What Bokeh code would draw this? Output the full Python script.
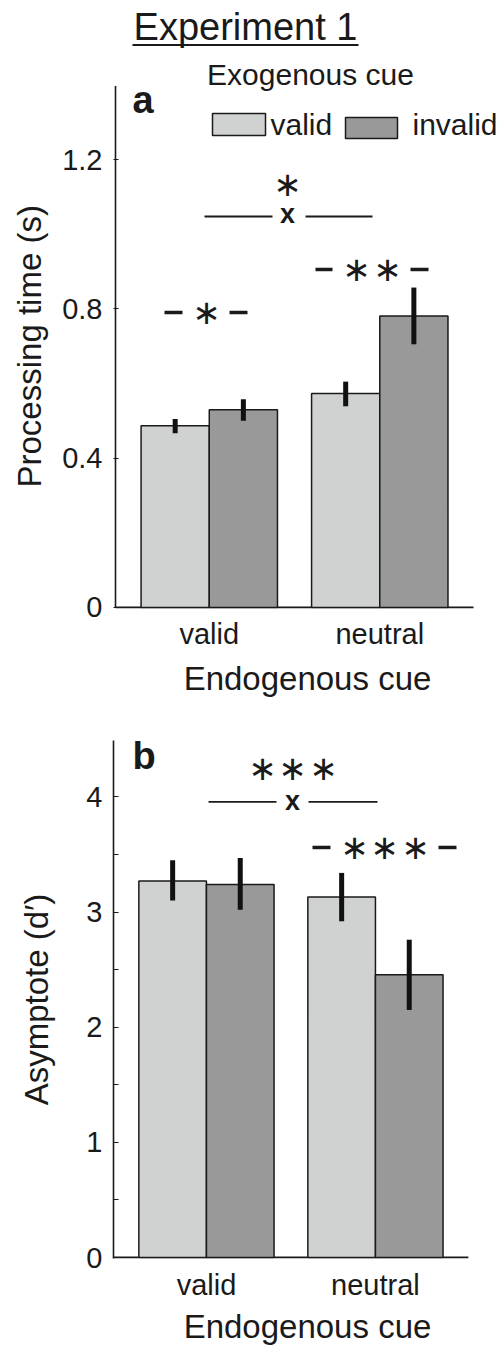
from bokeh.plotting import figure
from bokeh.models import FixedTicker, Label, Range1d, Title
from bokeh.layouts import column
from bokeh.embed import file_html
from bokeh.resources import INLINE

# ---------------- data ----------------
endo_cues = ["valid", "neutral"]          # x categories (Endogenous cue)
exo_cues = ["valid", "invalid"]           # series (Exogenous cue)
group_x = [1, 2]

# Panel a: processing time (s)
pt_valid = [0.487, 0.573]
pt_valid_lo = [0.467, 0.539]
pt_valid_hi = [0.505, 0.605]
pt_invalid = [0.530, 0.781]
pt_invalid_lo = [0.500, 0.705]
pt_invalid_hi = [0.558, 0.857]
pt_ticks = [0, 0.4, 0.8, 1.2]

# Panel b: asymptote (d')
asy_valid = [3.27, 3.13]
asy_valid_lo = [3.10, 2.92]
asy_valid_hi = [3.45, 3.34]
asy_invalid = [3.24, 2.455]
asy_invalid_lo = [3.02, 2.15]
asy_invalid_hi = [3.47, 2.76]
asy_ticks = [0, 1, 2, 3, 4]
asy_minor = [0.5, 1.5, 2.5, 3.5]

# ---------------- style ----------------
LIGHT = "#D0D2D1"
DARK = "#999999"
INK = "#1a1a1a"
FONT = "Liberation Sans"
STARFONT = "DejaVu Sans"
BW = 0.4
XLIM = (0.45, 2.55)


def base_fig(height, xr, yr, left, right, top, bottom):
    p = figure(width=501, height=height, x_range=Range1d(*xr),
               y_range=Range1d(*yr), output_backend="svg",
               toolbar_location=None, min_border_left=left,
               min_border_right=right, min_border_top=top,
               min_border_bottom=bottom)
    p.xgrid.visible = False
    p.ygrid.visible = False
    p.outline_line_color = None
    p.background_fill_color = "white"
    p.border_fill_color = "white"
    p.axis.axis_line_color = INK
    p.axis.axis_line_width = 1.6
    p.axis.major_label_text_font = FONT
    p.axis.major_label_text_font_size = "29px"
    p.axis.major_label_text_color = INK
    p.axis.axis_label_text_font = FONT
    p.axis.axis_label_text_font_size = "33px"
    p.axis.axis_label_text_font_style = "normal"
    p.axis.axis_label_text_color = INK
    p.yaxis.major_tick_in = 5
    p.yaxis.major_tick_out = 0
    p.yaxis.major_tick_line_color = INK
    p.yaxis.major_tick_line_width = 1.2
    p.xaxis.major_tick_in = 0
    p.xaxis.major_tick_out = 0
    p.xaxis.minor_tick_line_color = None
    p.xaxis.axis_line_color = None          # drawn to the data limits below
    p.xaxis.ticker = FixedTicker(ticks=group_x)
    p.xaxis.major_label_overrides = {1: endo_cues[0], 2: endo_cues[1]}
    p.xaxis.axis_label = "Endogenous cue"
    p.segment(x0=[XLIM[0]], y0=[0], x1=[XLIM[1]], y1=[0], line_color=INK,
              line_width=1.8)
    return p


def bars(p, v, inv, vlo, vhi, ilo, ihi):
    xv = [g - BW / 2 for g in group_x]
    xi = [g + BW / 2 for g in group_x]
    p.vbar(x=xv, top=v, width=BW, bottom=0, fill_color=LIGHT,
           line_color=INK, line_width=1.5)
    p.vbar(x=xi, top=inv, width=BW, bottom=0, fill_color=DARK,
           line_color=INK, line_width=1.5)
    p.segment(x0=xv, y0=vlo, x1=xv, y1=vhi, line_color="#111111", line_width=5)
    p.segment(x0=xi, y0=ilo, x1=xi, y1=ihi, line_color="#111111", line_width=5)


def label(p, text, x, y, size, scale, align="left", bold=False, font=FONT):
    # y is the text baseline (data units); anchor at the middle of the em box
    ymid = y + 0.3465 * size / scale
    p.add_layout(Label(x=x, y=ymid, text=text, text_font=font,
                       text_font_size=f"{size}px", text_align=align,
                       text_baseline="middle", text_color=INK,
                       text_font_style="bold" if bold else "normal"))


def stars(p, xs, y, size=34):
    for x in xs:
        p.add_layout(Label(x=x, y=y, text="\u2217", text_font=STARFONT,
                           text_font_size=f"{size}px", text_align="center",
                           text_baseline="middle", text_color=INK))


def hlines(p, spans, y, width):
    p.segment(x0=[s[0] for s in spans], y0=[y] * len(spans),
              x1=[s[1] for s in spans], y1=[y] * len(spans),
              line_color=INK, line_width=width)


# ---------------- panel a ----------------
SA = 373.33   # px per unit (y), panel a
A_YMAX = 1.3966
pa = base_fig(700, (0.43827, 2.71393), (-0.00268, 1.6259), 113, 0, 0, 92)
bars(pa, pt_valid, pt_invalid, pt_valid_lo, pt_valid_hi, pt_invalid_lo, pt_invalid_hi)
pa.yaxis.axis_line_color = None
pa.segment(x0=[XLIM[0]], y0=[0], x1=[XLIM[0]], y1=[A_YMAX], line_color=INK,
           line_width=1.6)
pa.yaxis.ticker = FixedTicker(ticks=pt_ticks)
pa.yaxis.major_label_overrides = {0: "0"}
pa.yaxis.minor_tick_line_color = None
pa.yaxis.major_label_standoff = 11
pa.xaxis.major_label_standoff = 9
pa.xaxis.axis_label_standoff = 7
pa.add_layout(Title(text="Processing time (s)", align="left", offset=121,
                    vertical_align="top", standoff=19, text_font=FONT,
                    text_font_size="33px", text_font_style="normal",
                    text_color=INK), "left")

# title with underline
label(pa, "Experiment 1", 1.2125, 1.5187, 38, SA, align="center")
hlines(pa, [(0.5497, 1.8752)], 1.5067, 2.2)
# panel letter and legend
label(pa, "a", 0.5497, 1.3232, 38, SA, bold=True)
label(pa, "Exogenous cue", 1.5937, 1.4009, 30, SA, align="center")
pa.quad(left=[1.0189, 1.7990], right=[1.3298, 2.1040],
        bottom=[1.2643, 1.2563], top=[1.3232, 1.3125],
        fill_color=[LIGHT, DARK], line_color=INK, line_width=1.5)
label(pa, exo_cues[0], 1.3591, 1.2670, 30, SA)
label(pa, exo_cues[1], 2.1919, 1.2670, 30, SA)
# significance annotations
stars(pa, [1.4588], 1.1357)
hlines(pa, [(0.9720, 1.3708), (1.5644, 1.9573)], 1.0473, 1.8)
label(pa, "x", 1.4588, 1.0286, 27, SA, align="center", bold=True)
hlines(pa, [(1.6230, 1.7227), (2.1802, 2.2858)], 0.9054, 3.5)
stars(pa, [1.8635, 2.0453], 0.9054)
hlines(pa, [(0.7374, 0.8430), (1.1186, 1.2242)], 0.7902, 3.5)
stars(pa, [0.9837], 0.7902)

# ---------------- panel b ----------------
SB = 116.26   # px per unit (y), panel b
pb = base_fig(647, (0.45, 2.7459), (-0.0086, 4.49), 113, 0, 40, 84)
bars(pb, asy_valid, asy_invalid, asy_valid_lo, asy_valid_hi, asy_invalid_lo, asy_invalid_hi)
pb.yaxis.ticker = FixedTicker(ticks=asy_ticks, minor_ticks=asy_minor)
pb.yaxis.minor_tick_in = 5
pb.yaxis.minor_tick_out = 0
pb.yaxis.minor_tick_line_color = INK
pb.yaxis.minor_tick_line_width = 1.2
pb.yaxis.axis_label = "Asymptote (d\u2032)"
pb.yaxis.major_label_standoff = 11
pb.yaxis.axis_label_standoff = 28
pb.xaxis.major_label_standoff = 10
pb.xaxis.axis_label_standoff = 4

label(pb, "b", 0.5624, 4.2405, 38, SB, bold=True)
stars(pb, [1.3317, 1.5092, 1.6926], 4.249)
hlines(pb, [(1.0121, 1.4145), (1.6038, 2.0121)], 3.9566, 1.8)
label(pb, "x", 1.509, 3.888, 27, SB, align="center", bold=True)
hlines(pb, [(1.6275, 1.7340), (2.3730, 2.4796)], 3.561, 3.5)
stars(pb, [1.876, 2.0533, 2.237], 3.561)

layout = column(pa, pb)
open("out.html", "w").write(file_html(layout, INLINE))
